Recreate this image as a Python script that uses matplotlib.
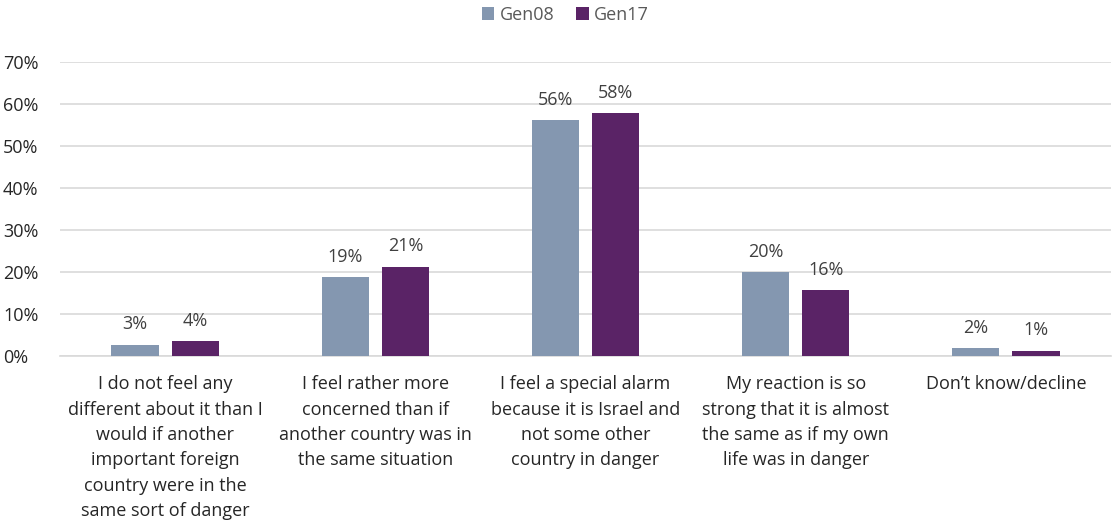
import numpy as np
import matplotlib.pyplot as plt

categories = [
    "I do not feel any\ndifferent about it than I\nwould if another\nimportant foreign\ncountry were in the\nsame sort of danger",
    "I feel rather more\nconcerned than if\nanother country was in\nthe same situation",
    "I feel a special alarm\nbecause it is Israel and\nnot some other\ncountry in danger",
    "My reaction is so\nstrong that it is almost\nthe same as if my own\nlife was in danger",
    "Don\u2019t know/decline",
]
gen08 = [2.7, 18.7, 56.2, 20.0, 1.9]
gen17 = [3.6, 21.3, 57.8, 15.7, 1.3]
gen08_labels = ["3%", "19%", "56%", "20%", "2%"]
gen17_labels = ["4%", "21%", "58%", "16%", "1%"]

plt.rcParams['font.family'] = ['Open Sans', 'DejaVu Sans']
fs = 13

fig = plt.figure(figsize=(11.13, 5.32), dpi=100)
ax = fig.add_axes([60 / 1113, 1 - 356 / 532, 1051 / 1113, 294 / 532])

x = np.arange(len(categories))
w = 0.224
off = (w + 0.062) / 2
b1 = ax.bar(x - off, gen08, w, color="#8497B0", label="Gen08", zorder=3)
b2 = ax.bar(x + off, gen17, w, color="#5A2366", label="Gen17", zorder=3)

for bars, labels in ((b1, gen08_labels), (b2, gen17_labels)):
    for rect, lab in zip(bars, labels):
        ax.annotate(lab, (rect.get_x() + rect.get_width() / 2, rect.get_height()),
                    xytext=(0, 11), textcoords="offset points", ha="center", va="baseline",
                    fontsize=fs, color="#404040")

ax.set_xlim(-0.5, 4.5)
ax.set_ylim(0, 70)
ax.set_yticks(range(0, 71, 10))
ax.set_yticklabels([f"{v}%" for v in range(0, 71, 10)])
ax.yaxis.grid(True, color="#D9D9D9", linewidth=1.2, zorder=0)
ax.set_axisbelow(True)
for s in ["top", "right", "left"]:
    ax.spines[s].set_visible(False)
ax.spines["bottom"].set_color("#D9D9D9")
ax.spines["bottom"].set_linewidth(1.2)
ax.tick_params(axis="y", length=0, labelsize=fs, labelcolor="#262626", pad=41)
for t in ax.get_yticklabels():
    t.set_horizontalalignment("left")
ax.set_xticks(x)
ax.set_xticklabels(categories, fontsize=fs, color="#262626", linespacing=1.52, va="top")
ax.tick_params(axis="x", length=0, pad=14)

handles, labels = ax.get_legend_handles_labels()
fig.legend(handles, labels, loc="center", bbox_to_anchor=(0.508, 0.972), ncol=2,
           frameon=False, fontsize=fs, handlelength=0.7, handleheight=0.7,
           handletextpad=0.3, columnspacing=1.2, labelcolor="#595959")

fig.savefig("out.png", dpi=100)
